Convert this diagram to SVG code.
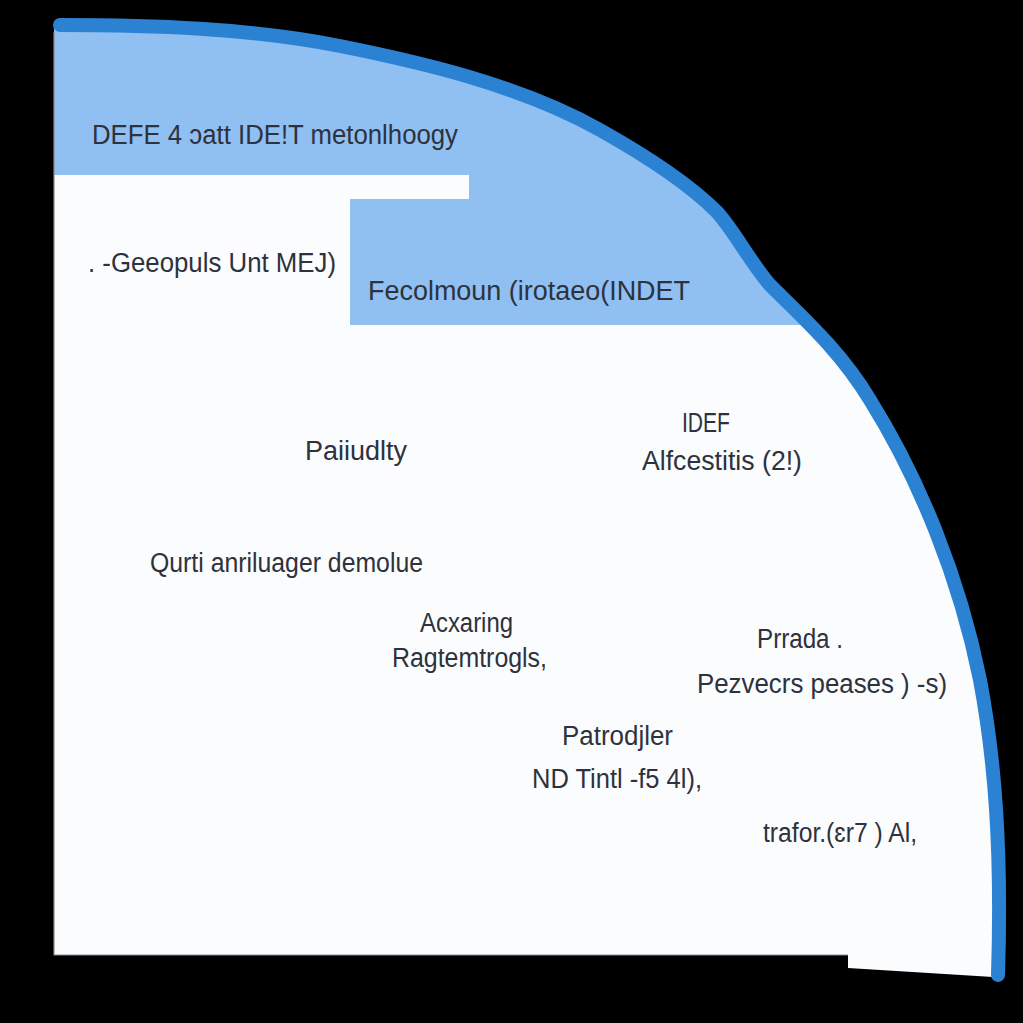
<svg xmlns="http://www.w3.org/2000/svg" width="1023" height="1023" viewBox="0 0 1023 1023">
<defs>
<style>
.t{font-family:"Liberation Sans",Arial,sans-serif;font-size:27px;fill:#2d323c;}
</style>
<clipPath id="panelClip">
<path d="M54,955 L54,30 Q54,25 60,25 C150,25 250,28 340,46 C420,62 520,85 600,130 C650,158 690,185 717,212 C735,232 750,262 770,285 C800,315 840,350 870,400 C920,480 960,580 980,680 C995,760 1002,850 998,975 L993,977 L848,968 L848,955 Z"/>
</clipPath>
</defs>
<rect width="1023" height="1023" fill="#000"/>
<g id="panel">
<path d="M54,955 L54,30 Q54,25 60,25 C150,25 250,28 340,46 C420,62 520,85 600,130 C650,158 690,185 717,212 C735,232 750,262 770,285 C800,315 840,350 870,400 C920,480 960,580 980,680 C995,760 1002,850 998,975 L993,977 L848,968 L848,955 Z" fill="#fbfcfe"/>
<path d="M54,0 L1023,0 L1023,325 L350,325 L350,199 L469,199 L469,175 L54,175 Z" fill="#90bff2" clip-path="url(#panelClip)"/>
<path d="M54,32 L54,955 L848,955" fill="none" stroke="#8a8a8a" stroke-width="1.2"/>
<path d="M60,25 C150,25 250,28 340,46 C420,62 520,85 600,130 C650,158 690,185 717,212 C735,232 750,262 770,285 C800,315 840,350 870,400 C920,480 960,580 980,680 C995,760 1002,850 998,975" fill="none" stroke="#2c82d2" stroke-width="14" stroke-linecap="round"/>
</g>
<g id="connectors"/>
<g id="title"><text class="t" x="92" y="144" textLength="366" lengthAdjust="spacingAndGlyphs">DEFE 4 ɔatt IDE!T metonlhoogy</text></g>
<g id="n-geeopuls"><text class="t" x="88" y="272" textLength="248" lengthAdjust="spacingAndGlyphs">. -Geeopuls Unt MEJ)</text></g>
<g id="n-fecolmoun"><text class="t" x="368" y="300" textLength="322" lengthAdjust="spacingAndGlyphs">Fecolmoun (irotaeo(INDET</text></g>
<g id="n-paiiudlly"><text class="t" x="305" y="460" textLength="102" lengthAdjust="spacingAndGlyphs">Paiiudlty</text></g>
<g id="n-idef"><text class="t" x="682" y="432" textLength="48" lengthAdjust="spacingAndGlyphs">IDEF</text><text class="t" x="642" y="470" textLength="160" lengthAdjust="spacingAndGlyphs">Alfcestitis (2!)</text></g>
<g id="n-qurti"><text class="t" x="150" y="572" textLength="273" lengthAdjust="spacingAndGlyphs">Qurti anriluager demolue</text></g>
<g id="n-acxaring"><text class="t" x="420" y="632" textLength="93" lengthAdjust="spacingAndGlyphs">Acxaring</text><text class="t" x="392" y="667" textLength="155" lengthAdjust="spacingAndGlyphs">Ragtemtrogls,</text></g>
<g id="n-prrada"><text class="t" x="757" y="648" textLength="86" lengthAdjust="spacingAndGlyphs">Prrada .</text><text class="t" x="697" y="693" textLength="250" lengthAdjust="spacingAndGlyphs">Pezvecrs peases ) -s)</text></g>
<g id="n-patrodjler"><text class="t" x="562" y="745" textLength="111" lengthAdjust="spacingAndGlyphs">Patrodjler</text><text class="t" x="532" y="788" textLength="170" lengthAdjust="spacingAndGlyphs">ND Tintl -f5 4l),</text></g>
<g id="n-trafor"><text class="t" x="763" y="842" textLength="154" lengthAdjust="spacingAndGlyphs">trafor.(ɛr7 ) Al,</text></g>
</svg>
